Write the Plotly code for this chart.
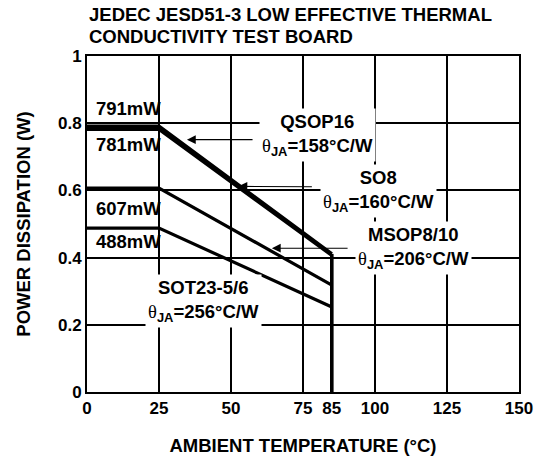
import plotly.graph_objects as go

# ---- data ----
temps = [0, 25, 85]                      # ambient temperature breakpoints (°C)
qsop16_w = [0.791, 0.791, 0.411]         # QSOP16, θJA=158°C/W
so8_w = [0.781, 0.781, 0.406]            # SO8, θJA=160°C/W
msop_w = [0.607, 0.607, 0.318]           # MSOP8/10, θJA=206°C/W
sot23_w = [0.488, 0.488, 0.253]          # SOT23-5/6, θJA=256°C/W
limit_temp = [85, 85]                    # max operating temperature
limit_w = [0.411, 0.0]

x_ticks = [0, 25, 50, 75, 85, 100, 125, 150]
x_grid = [25, 50, 75, 100, 125]
y_ticks = [0, 0.2, 0.4, 0.6, 0.8, 1]
y_ticklabels = ["0", "0.2", "0.4", "0.6", "0.8", "1"]

power_labels = ["791mW", "781mW", "607mW", "488mW"]
power_label_x = [14.4, 14.4, 14.4, 14.4]
power_label_y = [0.843, 0.737, 0.547, 0.448]

pkg_names = ["QSOP16", "SO8", "MSOP8/10", "SOT23-5/6"]
pkg_theta = ["158", "160", "206", "256"]
pkg_x = [80.2, 101.2, 113.5, 40.6]
pkg_y = [0.764, 0.598, 0.430, 0.271]

arrow_tip_x = [34.7, 52.6, 64.2]
arrow_tip_y = [0.751, 0.612, 0.428]
arrow_tail_x = [58.0, 78.6, 91.0]
arrow_tail_y = [0.751, 0.611, 0.428]

title_lines = ["JEDEC JESD51-3 LOW EFFECTIVE THERMAL", "CONDUCTIVITY TEST BOARD"]

FONT = "Liberation Sans, Arial, Helvetica, sans-serif"

fig = go.Figure()
for ys, w in [(qsop16_w, 3.6), (so8_w, 3), (msop_w, 3.2), (sot23_w, 3.2)]:
    fig.add_trace(go.Scatter(x=temps, y=ys, mode="lines",
                             line=dict(color="black", width=w),
                             showlegend=False, hoverinfo="skip"))
fig.add_trace(go.Scatter(x=limit_temp, y=limit_w, mode="lines",
                         line=dict(color="black", width=3.6),
                         showlegend=False, hoverinfo="skip"))

# arrows
for tx, ty, ax, ay in zip(arrow_tip_x, arrow_tip_y, arrow_tail_x, arrow_tail_y):
    fig.add_annotation(x=tx, y=ty, ax=ax, ay=ay, xref="x", yref="y",
                       axref="x", ayref="y", text="", showarrow=True,
                       arrowhead=2, arrowsize=1.6, arrowwidth=1.1,
                       arrowcolor="black", standoff=0)

# power labels
for t, x, y in zip(power_labels, power_label_x, power_label_y):
    fig.add_annotation(x=x, y=y, xref="x", yref="y", text=t, showarrow=False,
                       font=dict(family=FONT, size=18.5, color="black", weight="bold"))

# package labels with white boxes
theta = "<span style='font-family:Liberation Serif, serif; font-weight:normal'>θ</span>"
for name, th, x, y in zip(pkg_names, pkg_theta, pkg_x, pkg_y):
    txt = f"{name}<br>{theta}<sub>JA</sub>={th}°C/W"
    fig.add_annotation(x=x, y=y, xref="x", yref="y", text=txt, showarrow=False,
                       bgcolor="white", borderpad=2,
                       font=dict(family=FONT, size=18.5, color="black", weight="bold"))

# two-line title above the plot
for line, shift in zip(title_lines, [42, 19.5]):
    fig.add_annotation(x=0, y=1, xref="paper", yref="paper", xanchor="left",
                       yanchor="middle", yshift=shift, showarrow=False, text=line,
                       font=dict(family=FONT, size=18.5, color="black", weight="bold"))

fig.update_layout(
    width=546, height=460,
    margin=dict(l=87, r=27, t=56, b=68, autoexpand=False),
    paper_bgcolor="white", plot_bgcolor="white",
    font=dict(family=FONT, color="black", size=17, weight="bold"),
    xaxis=dict(range=[0, 150], tickvals=x_ticks, ticktext=[str(v) for v in x_ticks],
               showgrid=False, zeroline=False, showline=True, mirror=True,
               linecolor="black", linewidth=2, ticks="", automargin=False,
               tickfont=dict(family=FONT, size=17, weight="bold"),
               minor=dict(tickvals=x_grid, showgrid=True, gridcolor="black",
                          gridwidth=2, ticks=""),
               title=dict(text="AMBIENT TEMPERATURE (°C)", standoff=22,
                          font=dict(family=FONT, size=18.5, weight="bold"))),
    yaxis=dict(range=[0, 1], tickvals=y_ticks, ticktext=y_ticklabels,
               showgrid=True, gridcolor="black", gridwidth=2,
               zeroline=False, showline=True, mirror=True,
               linecolor="black", linewidth=2, ticks="", automargin=False,
               tickfont=dict(family=FONT, size=17, weight="bold"),
               title=dict(text="POWER DISSIPATION (W)", standoff=22,
                          font=dict(family=FONT, size=18.5, weight="bold"))),
)

# remove the browser's default 8px page margin so the figure fills the window
fig.write_html("out.html", config={"displayModeBar": False},
               post_script="document.body.style.margin='0';")
